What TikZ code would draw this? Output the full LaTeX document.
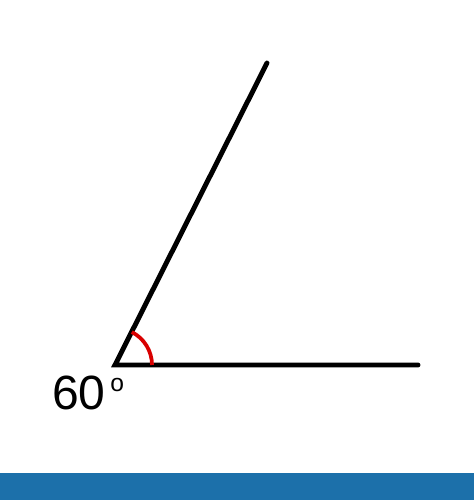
\documentclass[tikz,border=0pt]{standalone}
\usepackage{fontspec}
\setmainfont{Liberation Sans}
\usepackage{tikz}
\definecolor{barblue}{RGB}{28,112,170}

\begin{document}
\begin{tikzpicture}[x=0.03cm, y=0.03cm]

    % Frame
    \useasboundingbox (0,0) rectangle (474,500);
    \fill[barblue] (0,0) rectangle (474,27);

    % Vertex and ends of the two rays
    \coordinate (vertex) at (115,135);
    \coordinate (base) at (418,135);
    \coordinate (tip) at (267,437);

    % Rays
    \draw[line width=4.2pt, line cap=round] (base) -- (vertex) -- (tip);

    % Angle mark
    \draw[red!85!black, line width=3.2pt] ([shift={(0:37)}]vertex) arc[start angle=0, end angle=63, radius=37];

    % Label
    \node[font=\fontsize{41}{44}\selectfont, anchor=base west, inner sep=0pt] (label) at (52,90)
        {60\hspace{4pt}\raisebox{16pt}{\fontsize{21}{22}\selectfont o}};

\end{tikzpicture}
\end{document}
